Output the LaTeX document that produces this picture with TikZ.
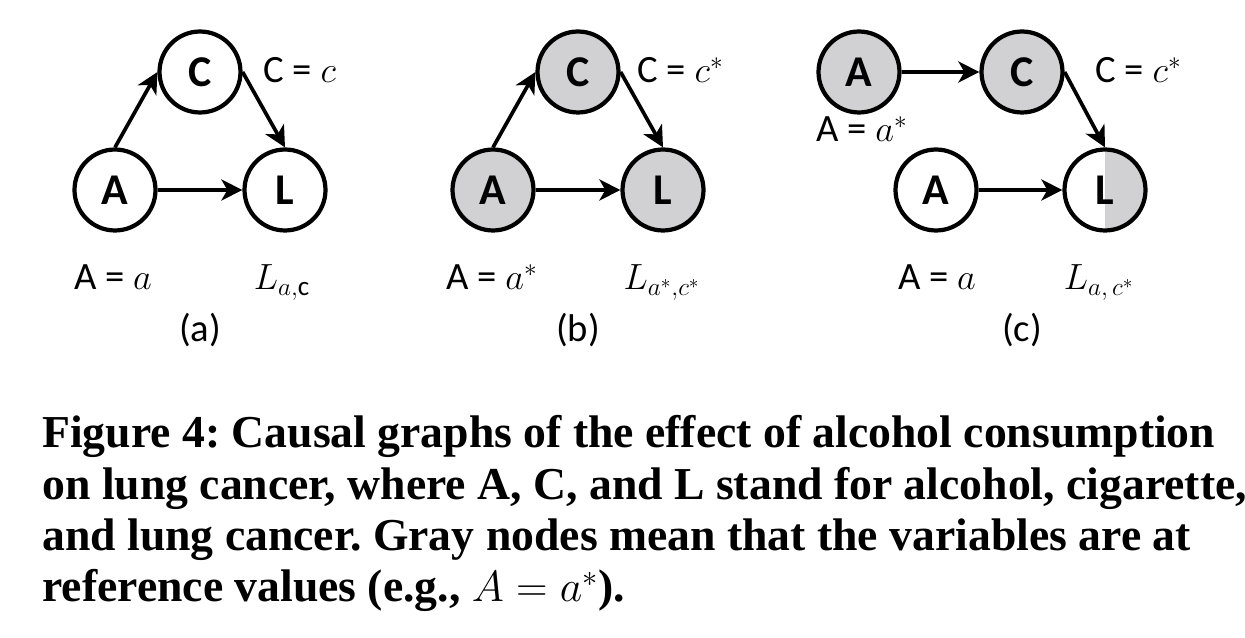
\documentclass[tikz,border=0pt]{standalone}
\usepackage{fontspec}
\setmainfont{Carlito}
\newfontfamily\captionfont{Liberation Serif}
\usepackage{tikz}
\usetikzlibrary{arrows.meta}
\definecolor{NodeGray}{HTML}{D1D0D2}
\frenchspacing

\tikzset{
  var/.style={circle, draw, line width=2.4pt, minimum size=1.62cm, inner sep=0pt,
    font=\fontsize{25}{25}\selectfont\bfseries},
  refvar/.style={var, fill=NodeGray},
  halfvar/.style={var, path picture={\fill[NodeGray] (path picture bounding box.north)
    rectangle (path picture bounding box.south east);}},
  edge/.style={-{Stealth[length=0.42cm, width=0.42cm, inset=0.12cm]}, line width=2.1pt},
  lbl/.style={font=\fontsize{22}{26}\selectfont, inner sep=0pt},
}

\begin{document}
\begin{tikzpicture}[x=0.02cm, y=-0.02cm]
  \useasboundingbox (0,0) rectangle (1245,638);
  % (a) all natural values
  \node[var] (Aa) at (115,190) {A};
  \node[var] (Ca) at (200,72) {C};
  \node[var] (La) at (285,190) {L};
  \draw[edge] (Aa.north) -- (Ca.west);
  \draw[edge] (Ca.east) -- (La.north);
  \draw[edge] (Aa.east) -- (La.west);
  \node[lbl, anchor=base west] (ca) at (263,83) {C = $c$};
  \node[lbl, anchor=base] (aa) at (113,290) {A = $a$};
  \node[lbl, anchor=base] (la) at (282,290) {$L_{a,\mathrm{c}}$};
  \node[lbl, anchor=base] (tagA) at (200,342) {(a)};
  % (b) all reference values
  \node[refvar] (Ab) at (493,190) {A};
  \node[refvar] (Cb) at (578,72) {C};
  \node[refvar] (Lb) at (663,190) {L};
  \draw[edge] (Ab.north) -- (Cb.west);
  \draw[edge] (Cb.east) -- (Lb.north);
  \draw[edge] (Ab.east) -- (Lb.west);
  \node[lbl, anchor=base west] (cb) at (637,83) {C = $c^*$};
  \node[lbl, anchor=base] (ab) at (492,290) {A = $a^*$};
  \node[lbl, anchor=base] (lb) at (662,290) {$L_{a^*,c^*}$};
  \node[lbl, anchor=base] (tagB) at (578,342) {(b)};
  % (c) mixed values
  \node[refvar] (Asc) at (859,72) {A};
  \node[refvar] (Cc) at (1022,72) {C};
  \node[var] (Ac) at (936,190) {A};
  \node[halfvar] (Lc) at (1105,190) {L};
  \draw[edge] (Asc.east) -- (Cc.west);
  \draw[edge] (Cc.east) -- (Lc.north);
  \draw[edge] (Ac.east) -- (Lc.west);
  \node[lbl, anchor=base] (asc) at (862,142) {A = $a^*$};
  \node[lbl, anchor=base west] (cc) at (1095,83) {C = $c^*$};
  \node[lbl, anchor=base] (ac) at (937,290) {A = $a$};
  \node[lbl, anchor=base] (lc) at (1099,290) {$L_{a,\,c^*}$};
  \node[lbl, anchor=base] (tagC) at (1022,342) {(c)};
  % caption (base = last line)
  \node[anchor=base west, align=left, inner sep=0pt,
    font=\captionfont\bfseries\fontsize{26}{29.3}\selectfont] (caption) at (42,602)
    {Figure 4: Causal graphs of the effect of alcohol consumption\\
     on lung cancer, where A, C, and L stand for alcohol, cigarette,\\
     and lung cancer. Gray nodes mean that the variables are at\\
     reference values (e.g., $A = a^*$).};
\end{tikzpicture}
\end{document}
